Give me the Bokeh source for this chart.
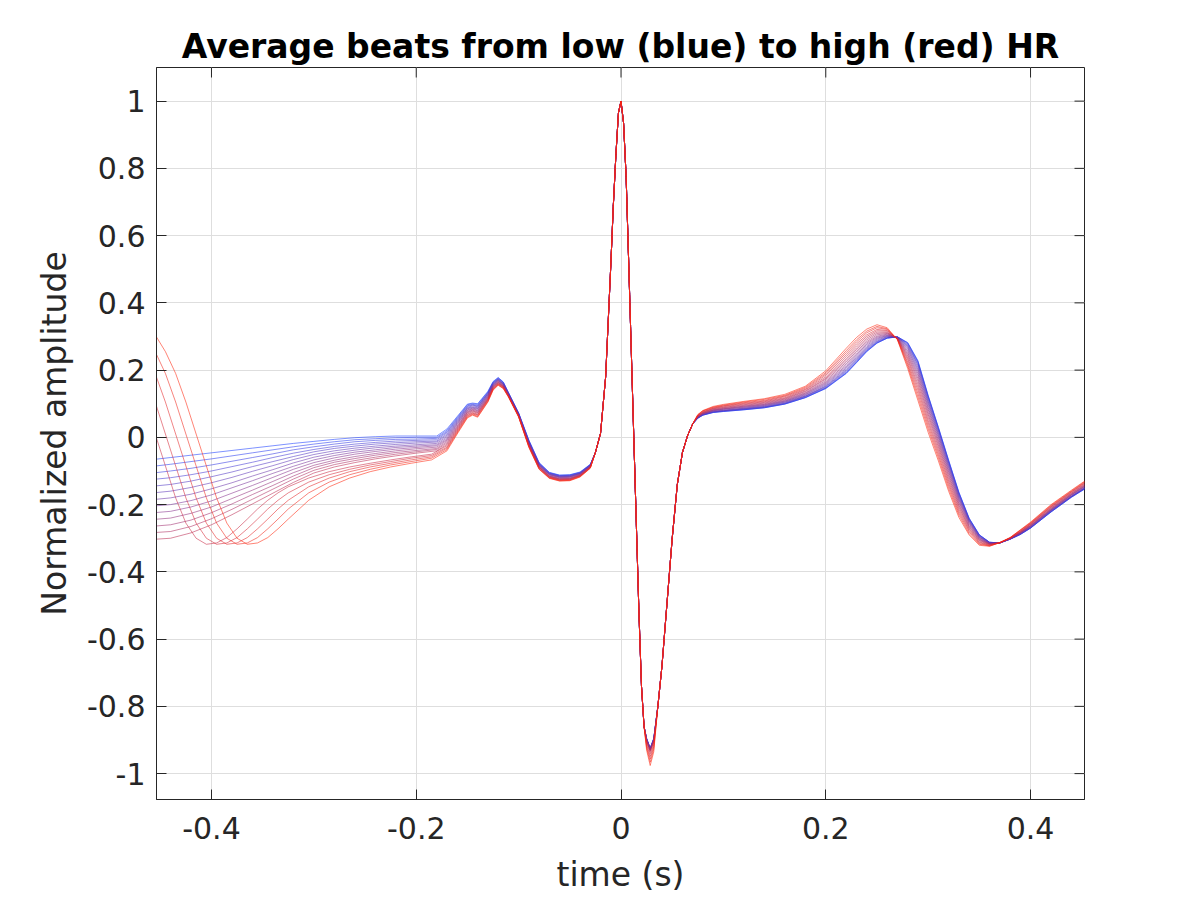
import math
from bokeh.plotting import figure
from bokeh.models import Range1d, FixedTicker
from bokeh.embed import file_html
from bokeh.resources import INLINE

# ---------------- data (amplitudes in thousandths of normalized amplitude) -------------
AMP_SCALE = 1000.0

# tail of the previous beat, curves 0..12 (lowest heart rates)
t_pre_low_hr = [-0.46, -0.44, -0.42, -0.40, -0.38, -0.36, -0.34, -0.32, -0.30,
                -0.28, -0.26, -0.24, -0.22, -0.20, -0.18]
pre_low_hr = [
    [-67, -60, -53, -46, -39, -32, -25, -18, -12, -6, -1, 2, 4, 4, 4],
    [-87, -80, -72, -64, -55, -46, -37, -28, -20, -13, -7, -4, -1, 0, 0],
    [-107, -100, -92, -82, -71, -60, -49, -37, -28, -20, -13, -9, -6, -5, -3],
    [-126, -120, -111, -100, -87, -74, -60, -47, -36, -27, -20, -15, -11, -9, -7],
    [-146, -140, -130, -117, -103, -87, -72, -57, -43, -33, -26, -20, -16, -13, -11],
    [-166, -160, -149, -135, -119, -101, -84, -66, -51, -40, -32, -26, -21, -17, -14],
    [-186, -180, -169, -153, -135, -115, -96, -76, -59, -47, -38, -31, -26, -22, -18],
    [-205, -200, -188, -171, -150, -129, -107, -86, -67, -54, -44, -37, -30, -26, -22],
    [-225, -220, -207, -189, -166, -143, -119, -95, -75, -61, -50, -42, -35, -30, -25],
    [-245, -240, -226, -207, -182, -157, -131, -105, -83, -68, -57, -48, -40, -34, -29],
    [-265, -260, -246, -224, -198, -170, -143, -115, -90, -74, -63, -53, -45, -39, -33],
    [-284, -280, -265, -242, -214, -184, -154, -124, -98, -81, -69, -59, -50, -43, -36],
    [-304, -300, -284, -260, -230, -198, -166, -134, -106, -88, -75, -64, -55, -47, -40],
]

# tail of the previous beat, curves 13..17 (highest heart rates, previous T wave visible)
t_pre_high_hr = [-0.465, -0.455, -0.445, -0.435, -0.425, -0.415, -0.405, -0.395,
                 -0.385, -0.375, -0.365, -0.355, -0.345, -0.335, -0.325, -0.305,
                 -0.285, -0.265, -0.245, -0.225, -0.205, -0.185]
pre_high_hr = [
    [105, 10, -85, -180, -255, -300, -318, -314, -298, -272, -243, -213, -187, -165, -147, -121, -102, -88, -77, -67, -58, -50],
    [190, 105, 10, -85, -180, -255, -300, -318, -314, -298, -272, -243, -213, -187, -165, -133, -111, -95, -82, -72, -62, -54],
    [255, 190, 105, 10, -85, -180, -255, -300, -318, -314, -298, -272, -243, -213, -187, -147, -121, -102, -88, -77, -67, -58],
    [305, 255, 190, 105, 10, -85, -180, -255, -300, -318, -314, -298, -272, -243, -213, -165, -133, -111, -95, -82, -72, -62],
    [330, 305, 255, 190, 105, 10, -85, -180, -255, -300, -318, -314, -298, -272, -243, -187, -147, -121, -102, -88, -77, -67],
]

# P wave and PR segment, one row per curve
t_p_wave = [-0.17, -0.16, -0.15, -0.145, -0.14, -0.13, -0.125, -0.12, -0.115,
            -0.11, -0.10, -0.09, -0.08, -0.07, -0.06, -0.05, -0.04, -0.03]
p_wave = [
    [25, 62, 99, 102, 100, 137, 166, 178, 165, 134, 73, -8, -75, -104, -112, -111, -103, -80],
    [21, 59, 97, 100, 98, 135, 164, 177, 164, 133, 72, -9, -76, -105, -113, -112, -104, -81],
    [17, 56, 94, 98, 95, 133, 163, 175, 163, 132, 71, -11, -77, -106, -114, -113, -105, -81],
    [14, 53, 92, 96, 93, 131, 161, 174, 161, 132, 71, -12, -79, -107, -115, -114, -106, -82],
    [10, 50, 89, 94, 91, 130, 160, 173, 160, 131, 70, -13, -80, -108, -116, -115, -107, -83],
    [6, 47, 87, 91, 88, 128, 158, 171, 159, 130, 69, -15, -81, -109, -117, -116, -107, -84],
    [2, 44, 85, 89, 86, 126, 157, 170, 158, 129, 68, -16, -82, -110, -118, -117, -108, -84],
    [-2, 41, 82, 87, 84, 124, 155, 169, 157, 128, 68, -17, -83, -111, -119, -118, -109, -85],
    [-6, 38, 80, 85, 81, 122, 154, 167, 156, 127, 67, -18, -84, -112, -120, -119, -110, -86],
    [-9, 34, 77, 83, 79, 120, 152, 166, 154, 127, 66, -20, -86, -114, -122, -121, -111, -86],
    [-13, 31, 75, 81, 76, 118, 151, 164, 153, 126, 65, -21, -87, -115, -123, -122, -112, -87],
    [-17, 28, 73, 79, 74, 116, 149, 163, 152, 125, 65, -22, -88, -116, -124, -123, -113, -88],
    [-21, 25, 70, 77, 72, 114, 148, 162, 151, 124, 64, -24, -89, -117, -125, -124, -114, -88],
    [-25, 22, 68, 74, 69, 113, 146, 160, 150, 123, 63, -25, -90, -118, -126, -125, -114, -89],
    [-29, 19, 65, 72, 67, 111, 145, 159, 149, 122, 62, -26, -91, -119, -127, -126, -115, -90],
    [-32, 16, 63, 70, 65, 109, 143, 158, 147, 122, 62, -27, -93, -120, -128, -127, -116, -91],
    [-36, 13, 60, 68, 62, 107, 142, 156, 146, 121, 61, -29, -94, -121, -129, -128, -117, -91],
    [-40, 10, 58, 66, 60, 105, 140, 155, 145, 120, 60, -30, -95, -122, -130, -129, -118, -92],
]

# QRS complex (shared by all curves) up to the S wave
t_qrs_up = [-0.025, -0.02, -0.015, -0.01, -0.0075, -0.005, -0.0025, 0.0, 0.0025,
            0.005, 0.0075, 0.01, 0.0125, 0.015, 0.0175, 0.02, 0.0225]
qrs_up = [-45, 12, 180, 510, 690, 840, 965, 1000, 935, 775, 520, 260, 0, -260, -520, -740, -860]

# S wave trough, one row per curve
t_s_wave = [0.025, 0.0285, 0.032]
s_wave = [
    [-895, -924, -895], [-895, -925, -896], [-896, -925, -896], [-896, -926, -897],
    [-897, -926, -897], [-897, -927, -898], [-898, -927, -898], [-898, -928, -899],
    [-899, -929, -900], [-900, -930, -901], [-901, -931, -902], [-902, -932, -903],
    [-904, -935, -905], [-908, -941, -909], [-913, -949, -914], [-918, -957, -920],
    [-924, -966, -927], [-930, -976, -935],
]

# end of QRS (shared)
t_qrs_down = [0.036, 0.04, 0.045, 0.05, 0.055, 0.06, 0.065, 0.07]
qrs_down = [-800, -680, -490, -300, -140, -45, 5, 40]

# ST segment and T wave, one row per curve
t_st_t = [0.075, 0.08, 0.09, 0.10, 0.12, 0.14, 0.16, 0.18, 0.20, 0.22, 0.23, 0.24,
          0.25, 0.26, 0.27, 0.28, 0.29, 0.30, 0.31, 0.32, 0.33, 0.34, 0.35, 0.36,
          0.37, 0.38, 0.39, 0.40, 0.42, 0.44, 0.46]
st_t = [
    [57, 66, 74, 77, 82, 88, 99, 118, 145, 190, 222, 255, 280, 295, 299, 282, 228, 125, 30, -68, -163, -240, -290, -312, -314, -303, -289, -270, -222, -178, -140],
    [57, 66, 74, 77, 82, 88, 99, 118, 146, 191, 223, 256, 281, 295, 299, 281, 226, 123, 29, -69, -164, -241, -290, -312, -314, -303, -289, -270, -222, -178, -140],
    [57, 67, 75, 78, 83, 89, 100, 119, 147, 193, 225, 258, 282, 296, 299, 279, 223, 121, 26, -72, -166, -242, -291, -312, -314, -303, -288, -269, -221, -177, -139],
    [58, 67, 75, 79, 84, 90, 101, 121, 149, 196, 228, 260, 284, 297, 298, 276, 219, 117, 23, -75, -169, -244, -292, -313, -314, -303, -288, -269, -220, -176, -138],
    [58, 68, 76, 79, 85, 91, 102, 122, 151, 199, 231, 263, 286, 299, 298, 273, 215, 112, 19, -78, -172, -246, -294, -313, -314, -302, -287, -268, -219, -176, -137],
    [59, 68, 77, 80, 86, 92, 104, 123, 153, 202, 234, 266, 289, 300, 298, 270, 209, 107, 14, -83, -175, -248, -295, -314, -314, -302, -287, -267, -218, -175, -136],
    [59, 69, 78, 81, 87, 94, 105, 125, 156, 206, 238, 269, 292, 302, 297, 266, 203, 102, 9, -87, -179, -250, -297, -315, -314, -302, -286, -266, -217, -174, -135],
    [60, 70, 79, 83, 89, 95, 107, 127, 159, 210, 242, 273, 295, 303, 297, 262, 197, 96, 4, -92, -183, -253, -298, -315, -314, -302, -285, -265, -216, -172, -133],
    [61, 71, 80, 84, 90, 97, 108, 129, 162, 214, 246, 277, 298, 305, 296, 257, 190, 89, -2, -98, -187, -256, -300, -316, -314, -301, -284, -264, -215, -171, -132],
    [61, 71, 81, 85, 92, 98, 110, 131, 165, 219, 251, 281, 301, 307, 296, 252, 183, 83, -9, -103, -192, -259, -302, -317, -314, -301, -284, -263, -214, -170, -130],
    [62, 72, 82, 86, 93, 100, 112, 133, 169, 224, 256, 285, 305, 309, 295, 247, 175, 75, -15, -110, -197, -263, -304, -317, -314, -301, -283, -262, -212, -169, -129],
    [63, 73, 83, 88, 95, 102, 114, 136, 173, 229, 261, 290, 309, 311, 294, 242, 167, 68, -22, -116, -202, -266, -306, -318, -313, -300, -282, -261, -211, -167, -127],
    [64, 74, 85, 89, 97, 104, 116, 138, 176, 234, 266, 295, 313, 313, 294, 236, 158, 60, -29, -123, -207, -270, -308, -319, -313, -300, -281, -259, -209, -166, -125],
    [64, 75, 86, 91, 99, 106, 118, 141, 180, 240, 272, 300, 317, 316, 293, 231, 149, 51, -37, -130, -213, -273, -311, -320, -313, -300, -280, -258, -207, -164, -123],
    [65, 76, 87, 93, 101, 108, 121, 143, 185, 246, 278, 305, 321, 318, 292, 224, 140, 43, -45, -137, -219, -277, -313, -321, -313, -299, -279, -257, -206, -162, -121],
    [66, 78, 89, 94, 103, 110, 123, 146, 189, 252, 284, 311, 326, 321, 292, 218, 130, 34, -53, -144, -225, -281, -316, -322, -313, -299, -277, -255, -204, -161, -119],
    [67, 79, 90, 96, 105, 113, 125, 149, 193, 258, 290, 316, 330, 323, 291, 212, 120, 25, -61, -152, -231, -286, -318, -323, -313, -298, -276, -254, -202, -159, -117],
    [68, 80, 92, 98, 107, 115, 128, 152, 198, 265, 297, 322, 335, 326, 290, 205, 110, 15, -70, -160, -238, -290, -321, -324, -313, -298, -275, -252, -200, -157, -115],
]

x_ticks = [-0.4, -0.2, 0, 0.2, 0.4]
x_tick_labels = ["-0.4", "-0.2", "0", "0.2", "0.4"]
y_ticks = [-1, -0.8, -0.6, -0.4, -0.2, 0, 0.2, 0.4, 0.6, 0.8, 1]
y_tick_labels = ["-1", "-0.8", "-0.6", "-0.4", "-0.2", "0", "0.2", "0.4", "0.6", "0.8", "1"]

# ---------------- figure ----------------
FONT = "DejaVu Sans"
AX_COLOR = "#262626"
X_LIM = (-0.4537, 0.4527)
Y_LIM = (-1.077, 1.1)

p = figure(width=1192, height=896,
           x_range=Range1d(*X_LIM), y_range=Range1d(*Y_LIM),
           output_backend="svg", toolbar_location=None,
           min_border_left=156, min_border_right=108,
           min_border_top=67, min_border_bottom=96)
p.background_fill_color = "white"
p.border_fill_color = "white"
p.outline_line_color = AX_COLOR
p.outline_line_width = 1

n_curves = len(p_wave)
blue = (25, 60, 255)
red = (255, 35, 10)
for k in range(n_curves):
    if k < len(pre_low_hr):
        tx, vy = t_pre_low_hr, pre_low_hr[k]
    else:
        tx, vy = t_pre_high_hr, pre_high_hr[k - len(pre_low_hr)]
    x = list(tx) + t_p_wave + t_qrs_up + t_s_wave + t_qrs_down + t_st_t
    y = list(vy) + p_wave[k] + qrs_up + s_wave[k] + qrs_down + st_t[k]
    y = [v / AMP_SCALE for v in y]
    f = k / (n_curves - 1)
    col = "#%02x%02x%02x" % tuple(int(round(b + f * (r - b))) for b, r in zip(blue, red))
    p.line(x, y, line_color=col, line_width=1, line_alpha=0.56)

# mirrored inward ticks on the top and right edges of the box
p.ray(x=x_ticks, y=[Y_LIM[1]] * len(x_ticks), length=10, length_units="screen",
      angle=-math.pi / 2, line_color=AX_COLOR, line_width=1)
p.ray(x=[X_LIM[1]] * len(y_ticks), y=y_ticks, length=10, length_units="screen",
      angle=math.pi, line_color=AX_COLOR, line_width=1)

bottom_axis = p.below[0]
left_axis = p.left[0]
bottom_axis.ticker = FixedTicker(ticks=x_ticks)
left_axis.ticker = FixedTicker(ticks=y_ticks)
bottom_axis.major_label_overrides = dict(zip(x_ticks, x_tick_labels))
left_axis.major_label_overrides = dict(zip(y_ticks, y_tick_labels))

for ax in (bottom_axis, left_axis):
    ax.axis_line_color = AX_COLOR
    ax.axis_line_width = 1
    ax.major_tick_line_color = AX_COLOR
    ax.major_tick_in = 10
    ax.major_tick_out = 0
    ax.minor_tick_in = 0
    ax.minor_tick_out = 0
    ax.major_label_text_font = FONT
    ax.major_label_text_color = AX_COLOR
    ax.major_label_text_font_size = "30px"
    ax.axis_label_text_font = FONT
    ax.axis_label_text_font_size = "33px"
    ax.axis_label_text_font_style = "normal"
    ax.axis_label_text_color = AX_COLOR

bottom_axis.major_label_standoff = 17
left_axis.major_label_standoff = 11
bottom_axis.axis_label = "time (s)"
left_axis.axis_label = "Normalized amplitude"
bottom_axis.axis_label_standoff = 13
left_axis.axis_label_standoff = 10

p.xgrid.grid_line_color = "#dedede"
p.ygrid.grid_line_color = "#dedede"
p.xgrid.grid_line_width = 1
p.ygrid.grid_line_width = 1

p.title.text = "Average beats from low (blue) to high (red) HR"
p.title.text_font = FONT
p.title.text_font_size = "33px"
p.title.text_font_style = "bold"
p.title.text_color = "black"
p.title.align = "center"
p.title.standoff = 4

open("out.html", "w").write(file_html(p, INLINE))
